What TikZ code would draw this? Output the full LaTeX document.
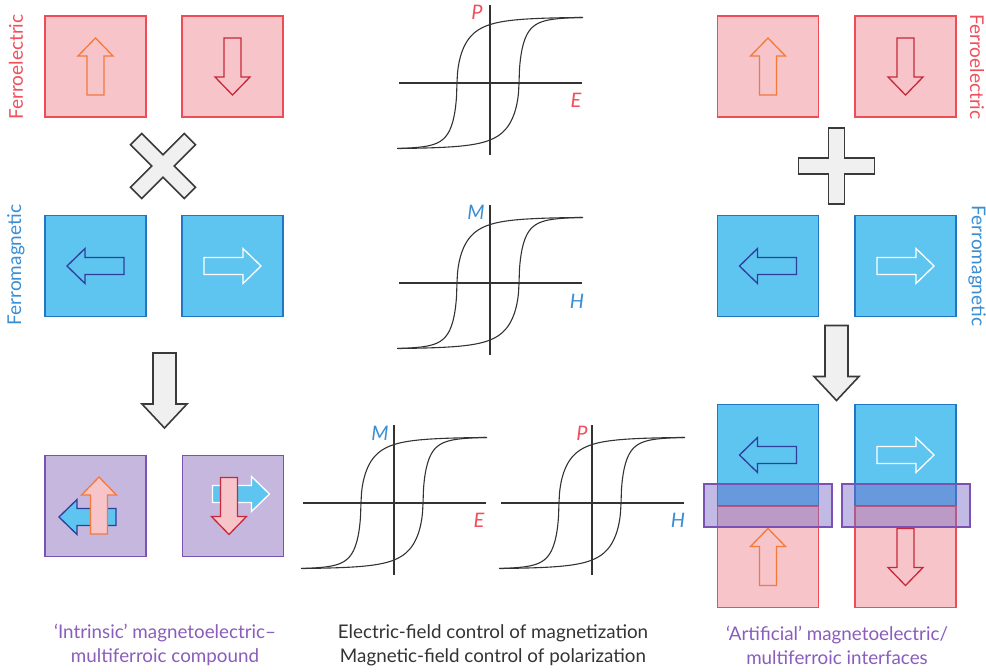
\documentclass[tikz,border=0pt]{standalone}
\usepackage{fontspec}
\setmainfont{Lato}
\definecolor{fepink}{HTML}{F6C4C9}
\definecolor{fered}{HTML}{EE4D55}
\definecolor{feorange}{HTML}{F47A3A}
\definecolor{fedark}{HTML}{C9283A}
\definecolor{fmblue}{HTML}{5EC4F0}
\definecolor{fmborder}{HTML}{2177C4}
\definecolor{fmdark}{HTML}{2F3E9A}
\definecolor{mfpurple}{HTML}{C6B7DE}
\definecolor{mfborder}{HTML}{7A52B3}
\definecolor{txtred}{HTML}{F0505C}
\definecolor{txtblue}{HTML}{3A8ED4}
\definecolor{txtpurple}{HTML}{8A5DBD}
\definecolor{txtgray}{HTML}{333333}
\definecolor{bandfill}{HTML}{7468C4}
\definecolor{bigfill}{HTML}{F0F0F0}
\definecolor{bigline}{HTML}{3A3A3A}
\begin{document}
\begin{tikzpicture}[x=1pt,y=-1pt,
  declare function={hup(\s)=66*tanh((\s>=0) ? pow(abs(\s)/17.5+0.0001,0.53) : -pow(abs(\s)/9+0.0001,0.53));
                    hlow(\s)=-hup(-\s);},
  sq/.style={minimum size=101pt, inner sep=0pt, outer sep=0pt, line width=1.3pt},
  fesq/.style={sq, draw=fered, fill=fepink},
  fmsq/.style={sq, draw=fmborder, fill=fmblue},
  mfsq/.style={sq, draw=mfborder, fill=mfpurple},
  band/.style={minimum width=128pt, minimum height=43pt, inner sep=0pt, outer sep=0pt,
    draw=mfborder, fill=bandfill, fill opacity=0.45, line width=1.3pt},
  smallarrow/.pic={\path[pic actions] (-28.5,-8.5) -- (10.5,-8.5) -- (10.5,-17.5) -- (28.5,0)
     -- (10.5,17.5) -- (10.5,8.5) -- (-28.5,8.5) -- cycle;},
  bigarrow/.pic={\path[pic actions] (-37.5,-11.5) -- (13.5,-11.5) -- (13.5,-22.5) -- (37.5,0)
     -- (13.5,22.5) -- (13.5,11.5) -- (-37.5,11.5) -- cycle;},
  plusshape/.pic={\path[pic actions] (38,8) -- (8,8) -- (8,38) -- (-8,38) -- (-8,8) -- (-38,8)
     -- (-38,-8) -- (-8,-8) -- (-8,-38) -- (8,-38) -- (8,-8) -- (38,-8) -- cycle;},
  arr/.style={line width=1.3pt, line join=miter},
  big/.style={draw=bigline, fill=bigfill, line width=1.6pt, line join=miter},
  axisline/.style={draw=txtgray, line width=1.7pt},
  curveline/.style={draw=txtgray, line width=1.1pt},
  sidelabel/.style={font=\fontsize{19}{22}\selectfont, inner sep=0pt},
  caption/.style={align=center, font=\fontsize{18.8}{24}\selectfont, inner sep=0pt},
  varlabel/.style={font=\itshape\fontsize{20}{23}\selectfont, inner sep=0pt}
]
\useasboundingbox (0,0) rectangle (986,672);
\fill[white] (0,0) rectangle (986,672);

\newcommand\hystloop[2]{%
  \begin{scope}[shift={(#1,#2)}, yscale=-1]
    \draw[axisline] (-91,0) -- (92,0);
    \draw[axisline] (0,-72) -- (0,78);
    \draw[curveline] plot[domain=-93:92, samples=371] (\x, {hup(\x+33)});
    \draw[curveline] plot[domain=-92:93, samples=371] (\x, {hlow(\x-29)});
  \end{scope}}

% ---------------- left column ----------------
\node[sidelabel, rotate=90, text=txtred] (lfe) at (16,67) {Ferroelectric};
\node[sidelabel, rotate=90, text=txtblue] (lfm) at (16,265) {Ferromagnetic};

\node[fesq] (lfe1) at (95.5,66.5) {};
\node[fesq] (lfe2) at (232.5,66.5) {};
\pic[arr, draw=feorange, fill=fepink, rotate=90] at (lfe1) {smallarrow};
\pic[arr, draw=fedark, fill=fepink, rotate=-90] at (lfe2) {smallarrow};

\pic[big, rotate=45] at (163,166) {plusshape};

\node[fmsq] (lfm1) at (95.5,266) {};
\node[fmsq] (lfm2) at (232.5,266) {};
\pic[arr, draw=fmdark, fill=fmblue, rotate=180] at (lfm1) {smallarrow};
\pic[arr, draw=white, fill=fmblue] at (lfm2) {smallarrow};

\pic[big, rotate=-90] at (164.5,390.5) {bigarrow};

\node[mfsq] (lmf1) at (95.5,506) {};
\node[mfsq] (lmf2) at (233,506) {};
\pic[arr, draw=fmdark, fill=fmblue, rotate=180] at (87.5,517) {smallarrow};
\pic[arr, draw=feorange, fill=fepink, rotate=90] at (99,505.5) {smallarrow};
\pic[arr, draw=white, fill=fmblue] at (241,494) {smallarrow};
\pic[arr, draw=fedark, fill=fepink, rotate=-90] at (229,506) {smallarrow};

\node[caption, text=txtpurple] (lcap) at (165,645) {‘Intrinsic’ magnetoelectric–\\multiferroic compound};

% ---------------- middle loops ----------------
\hystloop{490}{83}
\node[varlabel, text=txtred] (pl1) at (477,12) {P};
\node[varlabel, text=txtred] (el1) at (576,100) {E};

\hystloop{490}{283}
\node[varlabel, text=txtblue] (ml1) at (476,212) {M};
\node[varlabel, text=txtblue] (hl1) at (577,301) {H};

\hystloop{394}{503}
\node[varlabel, text=txtblue] (ml2) at (380,433) {M};
\node[varlabel, text=txtred] (el2) at (479,520) {E};

\hystloop{592}{503}
\node[varlabel, text=txtred] (pl2) at (582,433) {P};
\node[varlabel, text=txtblue] (hl2) at (678,520) {H};

\node[caption, text=txtgray] (mcap) at (493,645) {Electric-field control of magnetization\\Magnetic-field control of polarization};

% ---------------- right column ----------------
\node[sidelabel, rotate=-90, text=txtred] (rfe) at (977,67) {Ferroelectric};
\node[sidelabel, rotate=-90, text=txtblue] (rfm) at (977,266) {Ferromagnetic};

\node[fesq] (rfe1) at (768,66.5) {};
\node[fesq] (rfe2) at (905.5,66.5) {};
\pic[arr, draw=feorange, fill=fepink, rotate=90] at (rfe1) {smallarrow};
\pic[arr, draw=fedark, fill=fepink, rotate=-90] at (rfe2) {smallarrow};

\pic[big] at (836.5,166) {plusshape};

\node[fmsq] (rfm1) at (768,266) {};
\node[fmsq] (rfm2) at (905.5,266) {};
\pic[arr, draw=fmdark, fill=fmblue, rotate=180] at (rfm1) {smallarrow};
\pic[arr, draw=white, fill=fmblue] at (rfm2) {smallarrow};

\pic[big, rotate=-90] at (836.5,363) {bigarrow};

\node[fmsq] (rfm3) at (768,455) {};
\node[fmsq] (rfm4) at (905.5,455) {};
\pic[arr, draw=fmdark, fill=fmblue, rotate=180] at (rfm3) {smallarrow};
\pic[arr, draw=white, fill=fmblue] at (rfm4) {smallarrow};
\node[fesq] (rfe3) at (768,557) {};
\node[fesq] (rfe4) at (905.5,557) {};
\pic[arr, draw=feorange, fill=fepink, rotate=90] at (rfe3) {smallarrow};
\pic[arr, draw=fedark, fill=fepink, rotate=-90] at (rfe4) {smallarrow};
\node[band] (rband1) at (768,505.5) {};
\node[band] (rband2) at (906,505.5) {};

\node[caption, text=txtpurple] (rcap) at (837,645) {‘Artificial’ magnetoelectric/\\multiferroic interfaces};
\end{tikzpicture}
\end{document}
